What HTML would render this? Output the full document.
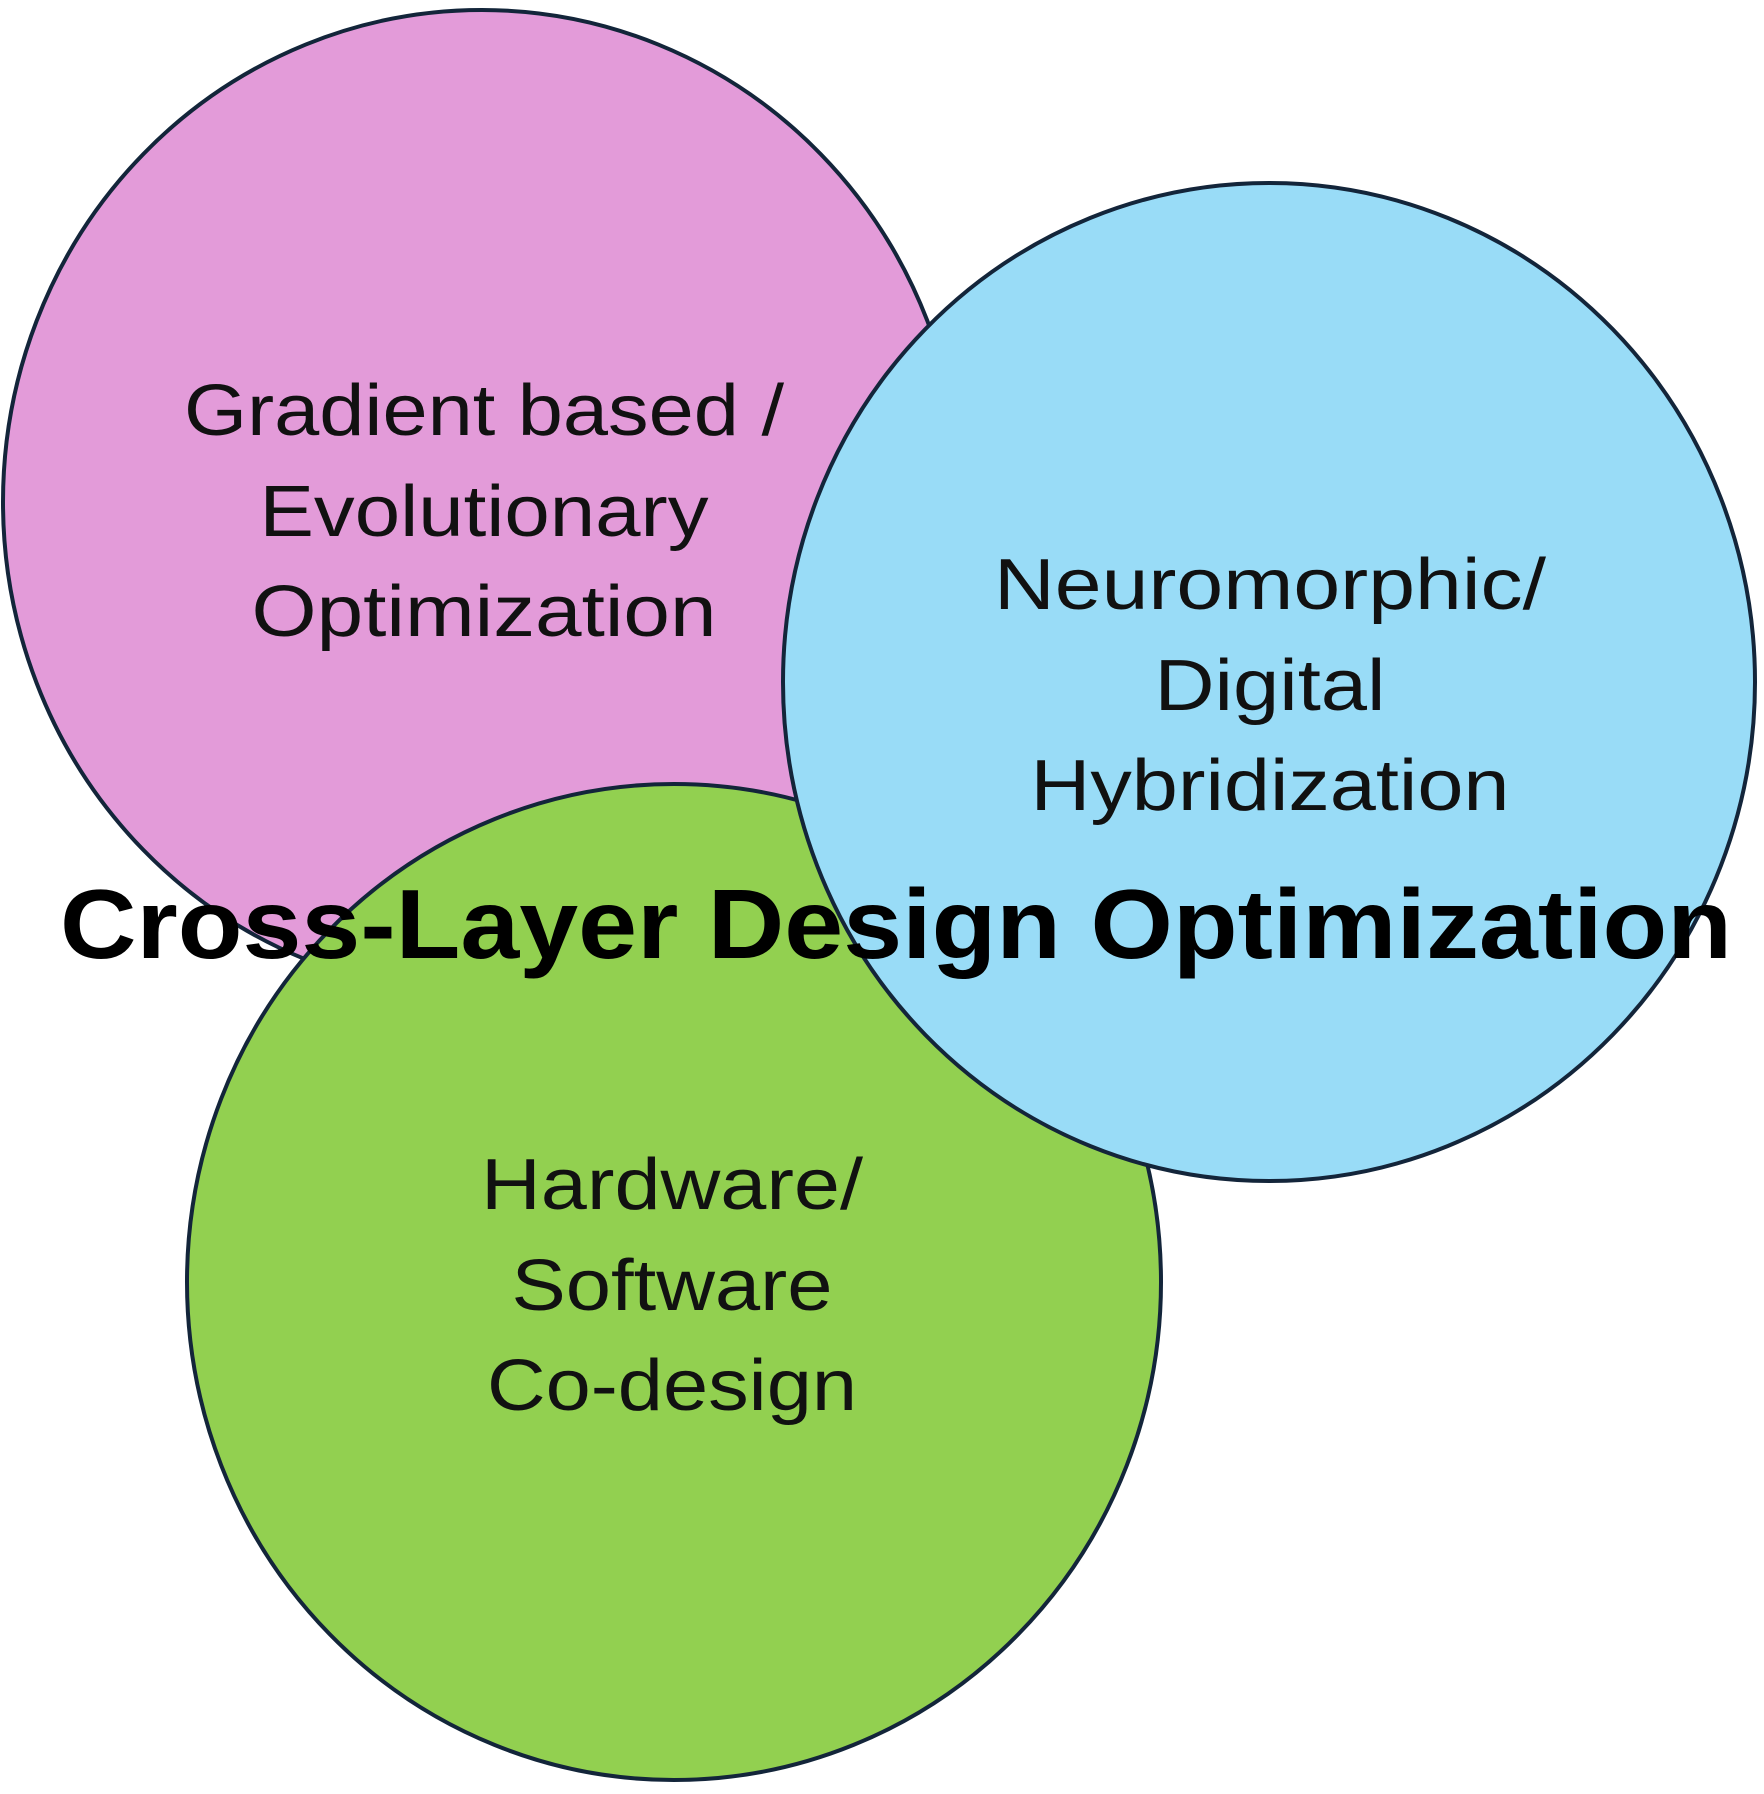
<!DOCTYPE html>
<html><head><meta charset="utf-8"><style>html,body{margin:0;padding:0;background:#fff}svg{display:block}</style></head>
<body>
<svg width="1764" height="1794" viewBox="0 0 1764 1794" xmlns="http://www.w3.org/2000/svg">
<g stroke="#13253a" stroke-width="4">
<ellipse cx="482" cy="502" rx="479" ry="492" fill="#e39bd9"/>
<ellipse cx="674" cy="1282" rx="487" ry="498" fill="#92d050"/>
<ellipse cx="1269" cy="682" rx="486" ry="499" fill="#99dcf7"/>
</g>
<g font-family="Liberation Sans, sans-serif" font-size="72" fill="#111" text-anchor="middle" lengthAdjust="spacingAndGlyphs">
<text x="484" y="435" textLength="600" lengthAdjust="spacingAndGlyphs">Gradient based /</text>
<text x="484" y="536" textLength="449" lengthAdjust="spacingAndGlyphs">Evolutionary</text>
<text x="484" y="636" textLength="465" lengthAdjust="spacingAndGlyphs">Optimization</text>
<text x="1270" y="609" textLength="552" lengthAdjust="spacingAndGlyphs">Neuromorphic/</text>
<text x="1270" y="710" textLength="231" lengthAdjust="spacingAndGlyphs">Digital</text>
<text x="1270" y="810" textLength="479" lengthAdjust="spacingAndGlyphs">Hybridization</text>
<text x="672" y="1209" textLength="382" lengthAdjust="spacingAndGlyphs">Hardware/</text>
<text x="672" y="1310" textLength="321" lengthAdjust="spacingAndGlyphs">Software</text>
<text x="672" y="1410" textLength="370" lengthAdjust="spacingAndGlyphs">Co-design</text>
</g>
<text x="60" y="958" font-family="Liberation Sans, sans-serif" font-weight="bold" font-size="98" fill="#000" textLength="1672" lengthAdjust="spacingAndGlyphs">Cross-Layer Design Optimization</text>
</svg>
</body></html>
